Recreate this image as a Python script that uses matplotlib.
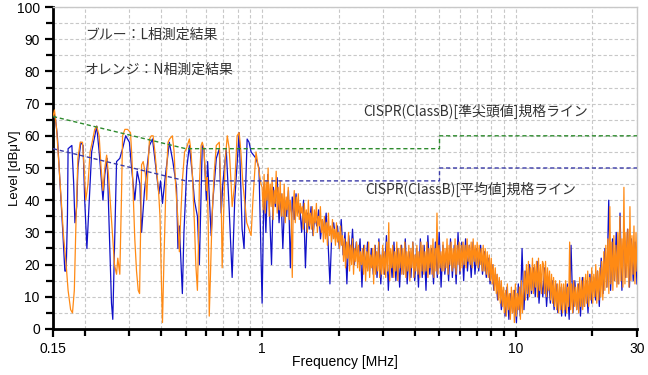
"""Conducted emission plot: L / N phase vs CISPR Class B limits.

Writes : out.png
"""

import matplotlib
matplotlib.use("Agg")
import matplotlib.pyplot as plt
import matplotlib.ticker as mticker
import numpy as np

OUT_PNG = "out.png"

# ---------------------------------------------------------------------------
# Data
# ---------------------------------------------------------------------------

# N phase (orange), 0.15 - 1 MHz: frequency [MHz] / level [dBuV]
N_LF_FREQ = [
    0.150, 0.152, 0.155, 0.160, 0.165, 0.169, 0.172, 0.176, 0.179, 0.182,
    0.185, 0.188, 0.192, 0.196, 0.199, 0.202, 0.206, 0.210, 0.214, 0.219,
    0.223, 0.228, 0.232, 0.236, 0.240, 0.244, 0.248, 0.252, 0.257, 0.262,
    0.267, 0.270, 0.275, 0.279, 0.282, 0.288, 0.295, 0.303, 0.307, 0.311,
    0.315, 0.320, 0.325, 0.329, 0.332, 0.335, 0.340, 0.347, 0.351, 0.355,
    0.360, 0.366, 0.372, 0.378, 0.384, 0.390, 0.396, 0.401, 0.405, 0.410,
    0.418, 0.426, 0.432, 0.443, 0.450, 0.456, 0.465, 0.472, 0.478, 0.485,
    0.495, 0.503, 0.517, 0.525, 0.531, 0.541, 0.548, 0.556, 0.561, 0.566,
    0.575, 0.581, 0.590, 0.597, 0.603, 0.608, 0.614, 0.619, 0.625, 0.635,
    0.648, 0.660, 0.678, 0.690, 0.696, 0.705, 0.715, 0.722, 0.729, 0.742,
    0.755, 0.762, 0.780, 0.797, 0.812, 0.825, 0.840, 0.856, 0.870, 0.888,
    0.905, 0.920, 0.946, 0.972, 0.990,
]
N_LF_LEVEL = [
    66, 68, 62, 45, 29, 20, 12, 6, 5, 12,
    35, 53, 58, 58, 50, 40, 45, 55, 58, 62,
    63, 60, 50, 43, 50, 54, 48, 40, 30, 20,
    17, 22, 17, 40, 60, 62, 62, 61, 53, 40,
    28, 18, 12, 11, 30, 51, 52, 48, 40, 50,
    59, 60, 60, 55, 49, 44, 35, 15, 2, 20,
    45, 58, 59, 60, 55, 45, 35, 24, 35, 46,
    55, 56, 59, 55, 48, 33, 20, 12, 25, 45,
    57, 58, 56, 48, 43, 47, 30, 4, 15, 35,
    49, 57, 58, 40, 19, 35, 52, 56, 60, 56,
    45, 38, 45, 60, 61, 55, 45, 39, 33, 31,
    29, 40, 55, 49, 45,
]

# L phase (blue), 0.15 - 1 MHz
L_LF_FREQ = [
    0.150, 0.153, 0.156, 0.160, 0.164, 0.167, 0.169, 0.171, 0.172, 0.178,
    0.181, 0.183, 0.186, 0.188, 0.193, 0.197, 0.200, 0.204, 0.207, 0.213,
    0.223, 0.228, 0.236, 0.240, 0.245, 0.250, 0.255, 0.258, 0.262, 0.267,
    0.275, 0.282, 0.290, 0.300, 0.306, 0.315, 0.322, 0.330, 0.335, 0.344,
    0.352, 0.360, 0.370, 0.384, 0.392, 0.398, 0.405, 0.415, 0.431, 0.445,
    0.460, 0.466, 0.472, 0.485, 0.492, 0.505, 0.517, 0.531, 0.541, 0.556,
    0.566, 0.581, 0.590, 0.603, 0.610, 0.630, 0.640, 0.660, 0.678, 0.690,
    0.700, 0.722, 0.742, 0.762, 0.780, 0.812, 0.834, 0.849, 0.862, 0.873,
    0.888, 0.905, 0.946, 0.972, 0.990,
]
L_LF_LEVEL = [
    66, 66, 60, 45, 30, 18, 18, 35, 56, 57,
    45, 33, 38, 50, 58, 57, 40, 25, 35, 55,
    63, 55, 40, 48, 53, 30, 8, 3, 25, 52,
    53, 56, 60, 58, 50, 40, 49, 45, 30, 43,
    50, 57, 59, 48, 42, 46, 39, 47, 58, 52,
    44, 25, 32, 11, 30, 50, 57, 48, 40, 35,
    20, 57, 56, 40, 52, 29, 40, 53, 56, 36,
    45, 56, 37, 16, 40, 61, 31, 25, 45, 59,
    58, 55, 53, 50, 22,
]

# N phase (orange), 1 - 30 MHz sweep levels (log-spaced sweep points)
N_HF_LEVEL = [
    44, 37, 48, 36, 46, 40, 50, 35, 45, 38, 47, 34, 43, 39, 49, 36, 44, 37, 46, 35,
    42, 35, 45, 33, 41, 37, 44, 34, 40, 36, 16, 38, 43, 33, 41, 35, 42, 34, 39, 36,
    38, 31, 39, 33, 37, 30, 40, 32, 36, 31, 38, 29, 37, 33, 39, 30, 35, 32, 38, 30,
    34, 27, 35, 28, 33, 26, 36, 29, 32, 27, 34, 28, 31, 26, 33, 27, 30, 25, 32, 26,
    29, 21, 28, 19, 27, 22, 30, 18, 26, 20, 28, 17, 25, 21, 27, 19, 26, 18, 24, 20,
    25, 17, 26, 15, 24, 18, 27, 16, 23, 19, 25, 14, 26, 17, 24, 18, 27, 16, 23, 17,
    26, 17, 24, 16, 27, 18, 33, 15, 25, 19, 26, 16, 24, 18, 27, 15, 25, 19, 26, 17,
    25, 17, 27, 16, 24, 18, 26, 15, 25, 19, 27, 16, 23, 18, 26, 17, 24, 16, 27, 18,
    26, 17, 24, 18, 27, 16, 25, 19, 26, 17, 28, 16, 25, 18, 36, 17, 26, 19, 24, 18,
    27, 18, 25, 19, 28, 17, 26, 20, 27, 18, 25, 19, 28, 17, 26, 20, 27, 18, 26, 19,
    27, 20, 26, 19, 28, 21, 26, 20, 27, 19, 28, 21, 26, 20, 27, 19, 26, 20, 25, 18,
    26, 18, 25, 17, 24, 16, 23, 15, 22, 14, 20, 12, 19, 11, 17, 9, 16, 8, 15, 7,
    13, 5, 12, 4, 14, 6, 11, 3, 13, 5, 12, 2, 14, 4, 11, 6, 13, 3, 15, 5,
    12, 18, 9, 20, 11, 21, 10, 19, 12, 22, 11, 20, 13, 21, 10, 22, 12, 20, 11, 21,
    20, 11, 21, 10, 19, 12, 18, 9, 17, 8, 16, 7, 15, 6, 14, 5, 15, 6, 14, 5,
    14, 6, 15, 5, 13, 7, 27, 6, 14, 5, 15, 7, 13, 6, 14, 5, 16, 7, 15, 6,
    16, 7, 17, 8, 18, 7, 16, 9, 19, 8, 17, 10, 20, 8, 18, 9, 19, 10, 21, 9,
    24, 12, 26, 13, 28, 11, 38, 14, 27, 12, 29, 15, 26, 13, 30, 14, 35, 15, 28, 13,
    44, 14, 30, 16, 31, 13, 38, 15, 29, 17, 32, 14, 30, 18,
]

# L phase (blue), 1 - 30 MHz sweep levels
L_HF_LEVEL = [
    8, 45, 30, 48, 36, 20, 44, 38, 47, 33, 42, 25, 40, 35, 43, 19, 41, 34, 42, 36,
    38, 30, 40, 19, 36, 31, 38, 29, 35, 32, 37, 28, 34, 30, 36, 27, 14, 30, 33, 28,
    32, 25, 34, 23, 30, 14, 29, 22, 31, 20, 27, 21, 28, 13, 26, 19, 27, 18, 25, 17,
    26, 16, 28, 14, 25, 17, 29, 12, 24, 16, 27, 15, 25, 13, 26, 17, 28, 14, 24, 16,
    27, 15, 25, 13, 28, 16, 26, 12, 29, 17, 25, 14, 27, 16, 30, 13, 26, 17, 25, 15,
    28, 16, 26, 14, 30, 17, 27, 15, 28, 18, 26, 16, 27, 17, 25, 18, 26, 17, 24, 16,
    22, 14, 20, 12, 17, 9, 15, 6, 12, 4, 13, 3, 11, 5, 12, 2, 14, 4, 25, 6,
    18, 9, 20, 11, 19, 10, 21, 8, 17, 10, 19, 7, 16, 8, 15, 6, 14, 5, 13, 4,
    13, 4, 14, 3, 26, 5, 15, 6, 14, 4, 16, 7, 15, 5, 17, 8, 16, 9, 18, 7,
    22, 11, 25, 13, 40, 12, 28, 15, 30, 14, 36, 12, 29, 16, 31, 13, 28, 15, 27, 14,
]

# CISPR Class B limit lines
QP_FREQ  = [0.15, 0.5, 5.0, 5.0, 30.0]
QP_LEVEL = [66, 56, 56, 60, 60]
AV_FREQ  = [0.15, 0.5, 5.0, 5.0, 30.0]
AV_LEVEL = [56, 46, 46, 50, 50]

X_TICKS       = [0.15, 1, 10, 30]
X_TICK_LABELS = ["0.15", "1", "10", "30"]
X_MINOR       = [0.2, 0.3, 0.4, 0.5, 0.6, 0.7, 0.8, 0.9,
                 2, 3, 4, 5, 6, 7, 8, 9, 20]

COLORS = {"L": "#1010C8", "N": "#FF8A14", "qp": "#2E8B2E", "av": "#3A3AA8"}
GRID_C = "#C8C8C8"
JP_FONT = ["Noto Sans CJK JP", "DejaVu Sans"]


def _trace(lf_freq, lf_level, hf_level):
    hf_freq = np.geomspace(1.0, 30.0, len(hf_level))
    freq = np.concatenate([lf_freq, hf_freq])
    level = np.concatenate([lf_level, hf_level])
    return freq, level


def make_figure(out_path):
    plt.rcParams["font.family"] = ["Liberation Sans", "DejaVu Sans"]
    fig = plt.figure(figsize=(6.48, 3.75), dpi=100)
    ax = fig.add_axes([0.0818, 0.1227, 0.9012, 0.8586])

    lf, ll = _trace(L_LF_FREQ, L_LF_LEVEL, L_HF_LEVEL)
    nf, nl = _trace(N_LF_FREQ, N_LF_LEVEL, N_HF_LEVEL)
    ax.plot(lf, ll, color=COLORS["L"], lw=0.9, zorder=3)
    ax.plot(nf, nl, color=COLORS["N"], lw=0.9, zorder=4)

    ax.plot(QP_FREQ, QP_LEVEL, color=COLORS["qp"], lw=1.0,
            linestyle=(0, (3, 2)), zorder=5)
    ax.plot(AV_FREQ, AV_LEVEL, color=COLORS["av"], lw=1.0,
            linestyle=(0, (3, 2)), zorder=5)

    ax.set_xscale("log")
    ax.set_xlim(0.15, 30)
    ax.set_ylim(0, 100)

    ax.xaxis.set_major_locator(mticker.FixedLocator(X_TICKS))
    ax.xaxis.set_major_formatter(mticker.FixedFormatter(X_TICK_LABELS))
    ax.xaxis.set_minor_locator(mticker.FixedLocator(X_MINOR))
    ax.xaxis.set_minor_formatter(mticker.NullFormatter())
    ax.yaxis.set_major_locator(mticker.MultipleLocator(10))
    ax.yaxis.set_minor_locator(mticker.MultipleLocator(5))

    ax.tick_params(which="both", direction="out", width=1.6, labelsize=10,
                   color="black")
    ax.tick_params(which="major", length=6)
    ax.tick_params(which="minor", length=5)

    ax.grid(which="both", color=GRID_C, linestyle=(0, (3, 2)), lw=0.8, zorder=0)
    ax.set_axisbelow(True)

    for side in ("left", "bottom"):
        ax.spines[side].set_linewidth(2.0)
        ax.spines[side].set_color("black")
    for side in ("top", "right"):
        ax.spines[side].set_linewidth(1.0)
        ax.spines[side].set_color(GRID_C)

    ax.set_xlabel("Frequency [MHz]", fontsize=10)
    ax.xaxis.set_label_coords(0.5, -0.082)
    ax.set_ylabel("Level [dBμV]", fontsize=9.5)
    ax.yaxis.set_label_coords(-0.054, 0.5)

    ax.text(0.2, 91.5, "ブルー：L相測定結果", family=JP_FONT, fontsize=10,
            va="center", color="#333333")
    ax.text(0.2, 80.5, "オレンジ：N相測定結果", family=JP_FONT, fontsize=10,
            va="center", color="#333333")
    ax.text(2.5, 67.5, "CISPR(ClassB)[準尖頭値]規格ライン", family=JP_FONT,
            fontsize=10, va="center", color="#333333")
    ax.text(2.55, 43.5, "CISPR(ClassB)[平均値]規格ライン", family=JP_FONT,
            fontsize=10, va="center", color="#333333")

    fig.savefig(out_path, dpi=100)
    plt.close(fig)


def main():
    make_figure(OUT_PNG)


if __name__ == "__main__":
    main()
